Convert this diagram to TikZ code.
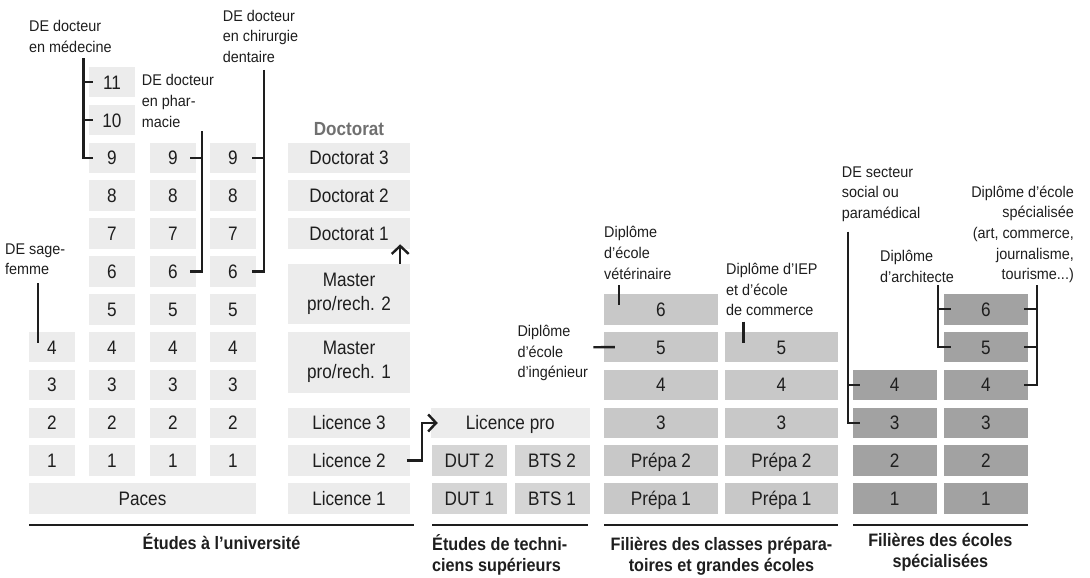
\documentclass[tikz,border=0pt]{standalone}
\usepackage{fontspec}
\setmainfont{Liberation Sans}
\newfontfamily\cellfont{Liberation Sans}[FakeStretch=0.88]
\newfontfamily\notefont{Liberation Sans}[FakeStretch=0.93]
\newfontfamily\footfont{Liberation Sans Bold}[FakeStretch=0.9]
\usepackage{tikz}
\usetikzlibrary{positioning, arrows.meta, calc}
\definecolor{unigray}{HTML}{ECECEC}
\definecolor{techgray}{HTML}{D5D5D5}
\definecolor{prepgray}{HTML}{C8C8C8}
\definecolor{specgray}{HTML}{A2A2A2}
\definecolor{inkgray}{HTML}{1E1E1E}
\definecolor{headgray}{HTML}{707070}

\begin{document}
\begin{tikzpicture}[x=1pt, y=-1pt]
	\tikzstyle{cell} = [inner sep=0, text=inkgray, font={\cellfont\fontsize{19.5}{24}\selectfont}];
	\tikzstyle{slot} = [cell, minimum height=30.5, text height=14pt, text depth=0pt];
	\tikzstyle{note} = [inner sep=0, align=left, text=inkgray, font={\notefont\fontsize{15.5}{20.7}\selectfont}];
	\tikzstyle{foot} = [inner sep=0, text=inkgray, font={\footfont\fontsize{18}{21}\selectfont}];
	\tikzstyle{link} = [line width=2.4pt, draw=inkgray];
	\tikzstyle{jump} = [line width=2.4pt, draw=inkgray, -{Straight Barb[length=8pt, width=17pt]}];
	\tikzstyle{underbar} = [line width=2.7pt, draw=inkgray];

	\useasboundingbox (0,0) rectangle (1090,578);

	% universite
	\foreach \c/\x/\n in {a/52/4, b/112/11, c/173/9, d/233/9} {
		\foreach \r in {1,...,\n} {
			\pgfmathsetmacro \yy {498.5-37.85*\r}
			\node[slot, fill=unigray, minimum width=46] (\c\r) at (\x,\yy) {\r};
		}
	}
	\node[slot, fill=unigray, minimum width=227] (paces) at (142.5,498.5) {Paces};

	\foreach \r/\t/\nm in {9/Doctorat 3/doc3, 8/Doctorat 2/doc2, 7/Doctorat 1/doc1, 2/Licence 3/lic3, 1/Licence 2/lic2, 0/Licence 1/lic1} {
		\pgfmathsetmacro \yy {498.5-37.85*\r}
		\node[slot, fill=unigray, minimum width=122] (\nm) at (349,\yy) {\t};
	}
	\node[cell, fill=unigray, align=center, minimum width=122, minimum height=60.3] (mas2) at (349,294.15) {Master\\pro/rech. 2};
	\node[cell, fill=unigray, align=center, minimum width=122, minimum height=61] (mas1) at (349,362.2) {Master\\pro/rech. 1};
	\node[foot, text=headgray, font={\footfont\fontsize{19}{22}\selectfont}, anchor=base] (dochead) at (349,135) {Doctorat};

	% techniciens
	\node[slot, fill=unigray, minimum width=158.5] (lpro) at (510.25,422.95) {Licence pro};
	\foreach \r/\k in {1/2, 0/1} {
		\pgfmathsetmacro \yy {498.5-37.85*\r}
		\node[slot, fill=techgray, minimum width=75] (dut\k) at (469.5,\yy) {DUT \k};
		\node[slot, fill=techgray, minimum width=75] (bts\k) at (552,\yy) {BTS \k};
	}

	% prepas
	\foreach \c/\x/\w/\n in {f/661/114/5, g/781.5/113/4} {
		\foreach \r in {0,...,\n} {
			\pgfmathsetmacro \yy {498.5-37.85*\r}
			\pgfmathtruncatemacro \k {\r+1}
			\ifnum \r < 2 \def\txt{Prépa \k}\else \def\txt{\k}\fi
			\node[slot, fill=prepgray, minimum width=\w] (\c\r) at (\x,\yy) {\txt};
		}
	}

	% ecoles specialisees
	\foreach \c/\x/\w/\n in {h/894.7/84/3, i/985.8/83.7/5} {
		\foreach \r in {0,...,\n} {
			\pgfmathsetmacro \yy {498.5-37.85*\r}
			\pgfmathtruncatemacro \k {\r+1}
			\node[slot, fill=specgray, minimum width=\w] (\c\r) at (\x,\yy) {\k};
		}
	}

	\draw[jump] ($(mas2.north east)+(-10,0)$) -- ($(doc1.south east)+(-10,-4.7)$);
	\draw[jump] ($(lic2.east)+(-3.3,0)$) -- ++(15,0) |- ($(lpro.west)+(7,0)$);

	\node[note, anchor=north west] (med) at (29,20.5) {DE docteur\\en médecine};
	\node[note, anchor=north west] (pharm) at (141.7,74.5) {DE docteur\\en phar-\\macie};
	\node[note, anchor=north west] (chir) at (222.7,9.7) {DE docteur\\en chirurgie\\dentaire};
	\node[note, anchor=north west] (sage) at (5,243.3) {DE sage-\\femme};
	\node[note, anchor=north west] (ing) at (517.3,325) {Diplôme\\d’école\\d’ingénieur};
	\node[note, anchor=north west] (vet) at (604,226.5) {Diplôme\\d’école\\vétérinaire};
	\node[note, anchor=north west] (iep) at (726,263) {Diplôme d’IEP\\et d’école\\de commerce};
	\node[note, anchor=north west] (social) at (841.7,166.3) {DE secteur\\social ou\\paramédical};
	\node[note, anchor=north west] (archi) at (880,250.5) {Diplôme\\d’architecte};
	\node[note, anchor=north east, align=right] (spec) at (1074,185.5) {Diplôme d’école\\spécialisée\\(art, commerce,\\journalisme,\\tourisme...)};

	\coordinate (medtop) at (83.3,58.3);
	\draw[link] (medtop) |- ($(b9.west)+(3.7,0)$);
	\foreach \r in {10,11} \draw[link] (medtop |- b\r.west) -- ($(b\r.west)+(3.7,0)$);

	\coordinate (phtop) at (201.7,131);
	\draw[link] (phtop) |- ($(c6.east)+(-6,0)$);
	\draw[link] ($(c9.east)+(-6,0)$) -- (phtop |- c9.east);

	\coordinate (chtop) at (264,70);
	\draw[link] (chtop) |- ($(d6.east)+(-4,0)$);
	\draw[link] ($(d9.east)+(-4,0)$) -- (chtop |- d9.east);

	\coordinate (sgtop) at (37.7,283.3);
	\draw[link] (sgtop) -- ($(sgtop |- a4.north)+(0,11.4)$);

	\coordinate (ingend) at (593.3,347.25);
	\draw[link] (ingend) -- ($(f4.west)+(11,0)$);

	\coordinate (vettop) at (619,285);
	\draw[link] (vettop) -- ($(vettop |- f5.north)+(0,11)$);

	\coordinate (ieptop) at (743.3,321.7);
	\draw[link] (ieptop) -- ($(ieptop |- g4.north)+(0,11.3)$);

	\coordinate (soctop) at (847.7,231.7);
	\draw[link] (soctop) |- ($(h2.west)+(7.3,0)$);
	\draw[link] (soctop |- h3.west) -- ($(h3.west)+(7.3,0)$);

	\coordinate (archtop) at (937.7,285);
	\draw[link] (archtop) |- ($(i4.west)+(7,0)$);
	\draw[link] (archtop |- i5.west) -- ($(i5.west)+(7,0)$);

	\coordinate (spectop) at (1036.7,285);
	\draw[link] (spectop) |- ($(i3.east)+(-3.7,0)$);
	\foreach \r in {4,5} \draw[link] ($(i\r.east)+(-3.7,0)$) -- (spectop |- i\r.east);

	% bas de page
	\draw[underbar] (29,525) -- (414,525);
	\draw[underbar] (432,525) -- (588,525);
	\draw[underbar] (604,525) -- (838,525);
	\draw[underbar] (853,525) -- (1027.5,525);

	\node[foot, anchor=north] (funi) at (221.5,533.7) {Études à l’université};
	\node[foot, anchor=north west, align=left] (ftech) at (432,534.7) {Études de techni-\\ciens supérieurs};
	\node[foot, anchor=north, align=center] (fprep) at (721.5,537.5) {Filières des classes prépara-\\toires et grandes écoles};
	\node[foot, anchor=north, align=center] (fspec) at (940.3,533.5) {Filières des écoles\\spécialisées};
\end{tikzpicture}
\end{document}
